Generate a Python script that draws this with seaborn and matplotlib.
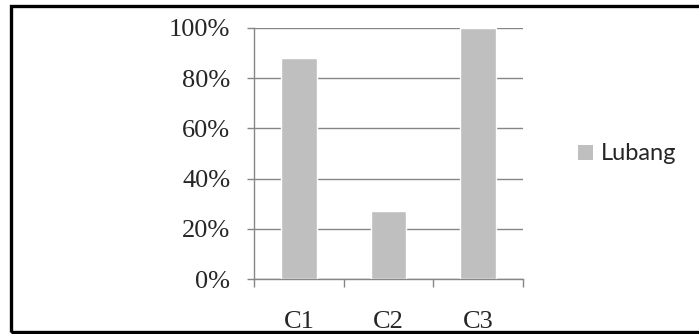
import matplotlib
matplotlib.use("Agg")
import matplotlib.pyplot as plt
from matplotlib.patches import Rectangle, Patch
from matplotlib.ticker import FixedLocator, PercentFormatter
import seaborn as sns
import pandas as pd

categories = ["C1", "C2", "C3"]
values = [0.88, 0.27, 1.00]
series_name = "Lubang"
y_ticks = [0, 0.2, 0.4, 0.6, 0.8, 1.0]

bar_color = "#bfbfbf"
grid_color = "#868686"

sns.set_style("white")
plt.rcParams["font.family"] = ["Liberation Serif", "DejaVu Serif"]

W, H = 699, 334
fig = plt.figure(figsize=(W / 100, H / 100), dpi=100)

# plot area placed in pixel units
x0, x1 = 254, 523
y_top, y_bot = 28, 279
ax = fig.add_axes([x0 / W, 1 - y_bot / H, (x1 - x0) / W, (y_bot - y_top) / H])

df = pd.DataFrame({"cat": categories, "val": values})
sns.barplot(data=df, x="cat", y="val", color=bar_color, width=0.4,
            saturation=1, ax=ax, zorder=3)

ax.set_xlim(-0.5, 2.5)
ax.set_ylim(0, 1)
ax.set_xlabel("")
ax.set_ylabel("")

# horizontal gridlines
ax.set_yticks(y_ticks)
ax.yaxis.set_major_formatter(PercentFormatter(1.0, decimals=0))
ax.grid(axis="y", color=grid_color, linewidth=1.0, zorder=0)
ax.grid(axis="x", visible=False)

# category boundaries get tick marks; labels sit at centers
ax.xaxis.set_major_locator(FixedLocator([-0.5, 0.5, 1.5, 2.5]))
ax.xaxis.set_minor_locator(FixedLocator([0, 1, 2]))
ax.set_xticklabels([], minor=False)
ax.set_xticklabels(categories, minor=True)
ax.tick_params(axis="x", which="major", length=6, width=1, color=grid_color,
               direction="out", bottom=True)
ax.tick_params(axis="x", which="minor", length=0, pad=23, labelsize=19)
ax.tick_params(axis="y", which="major", length=5, width=1, color=grid_color,
               direction="out", left=True, pad=12, labelsize=19)

for side in ["top", "right"]:
    ax.spines[side].set_visible(False)
for side in ["left", "bottom"]:
    ax.spines[side].set_color(grid_color)
    ax.spines[side].set_linewidth(1.0)

# legend to the right of the plot area
handle = Patch(facecolor=bar_color, edgecolor="none", label=series_name)
fig.legend(handles=[handle], loc="center left",
           bbox_to_anchor=(557 / W, 1 - 154 / H), frameon=False,
           prop={"family": "Lato", "size": 17},
           handlelength=0.62, handleheight=0.62, handletextpad=0.35)

# outer frame of the chart (right edge runs past the image)
fig.patches.append(Rectangle((11 / W, 1 - 332 / H), (710 - 11) / W, (332 - 6) / H,
                             transform=fig.transFigure, fill=False,
                             edgecolor="black", linewidth=2.4, zorder=10))

fig.savefig("out.png", dpi=100)
